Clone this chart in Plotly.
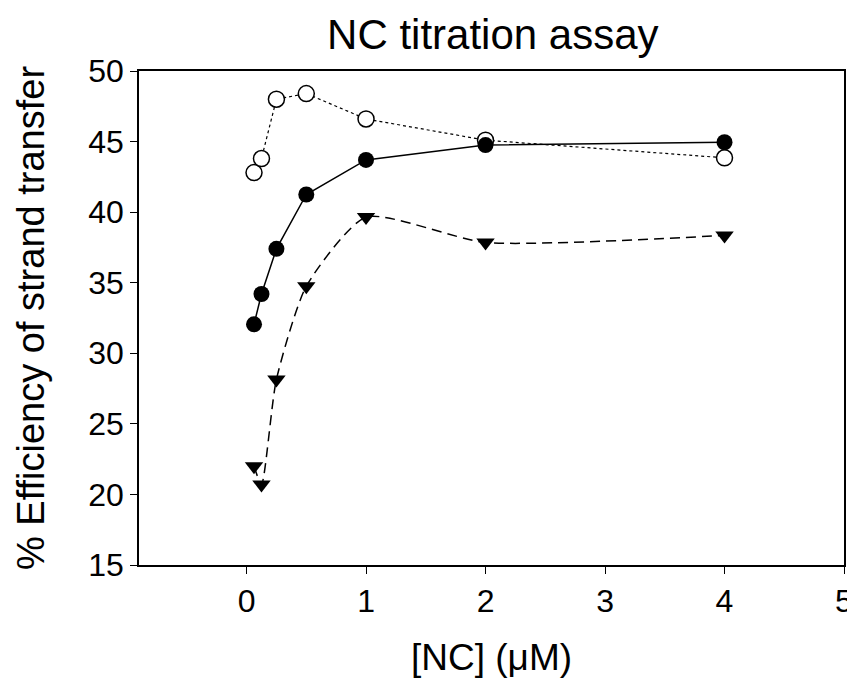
import plotly.graph_objects as go

nc = [0.0625, 0.125, 0.25, 0.5, 1, 2, 4]
open_circles = [42.8, 43.8, 48.0, 48.4, 46.6, 45.1, 43.85]
filled_circles = [32.05, 34.2, 37.4, 41.25, 43.7, 44.75, 44.95]
triangles = [22.0, 20.7, 28.15, 34.75, 39.65, 37.85, 38.35]

x_ticks = [0, 1, 2, 3, 4, 5]
y_ticks = [15, 20, 25, 30, 35, 40, 45, 50]

FONT = "Liberation Sans, Arial, sans-serif"

fig = go.Figure()
fig.add_trace(go.Scatter(
    x=nc, y=open_circles, mode="lines+markers",
    line=dict(color="black", width=1.2, dash="dot"),
    marker=dict(symbol="circle", size=16, color="white",
                line=dict(color="black", width=1.5)),
    showlegend=False))
fig.add_trace(go.Scatter(
    x=nc, y=filled_circles, mode="lines+markers",
    line=dict(color="black", width=1.5),
    marker=dict(symbol="circle", size=16, color="black"),
    showlegend=False))
fig.add_trace(go.Scatter(
    x=nc, y=triangles, mode="lines+markers",
    line=dict(color="black", width=1.5, dash="10px,6px", shape="spline", smoothing=0.6),
    marker=dict(symbol="triangle-down", size=16, color="black"),
    showlegend=False))

fig.update_layout(
    width=855, height=690,
    paper_bgcolor="white", plot_bgcolor="white",
    margin=dict(l=131, r=10, t=63, b=133),
    font=dict(family=FONT, color="black", size=32),
    title=dict(text="NC titration assay", x=0.567, xanchor="center",
               y=1 - 26 / 690, yanchor="middle",
               font=dict(family=FONT, size=42, color="black")),
)
fig.update_xaxes(
    range=[-0.9, 5], tickvals=x_ticks, ticktext=[str(v) for v in x_ticks],
    ticks="outside", ticklen=7, tickwidth=1, tickcolor="black",
    showline=True, linecolor="black", linewidth=1.5, mirror=True,
    showgrid=False, zeroline=False,
    tickfont=dict(family=FONT, size=32),
    title=dict(text="[NC] (μM)", font=dict(family=FONT, size=37), standoff=26),
)
fig.update_yaxes(
    range=[15, 50], tickvals=y_ticks,
    ticks="outside", ticklen=7, tickwidth=1, tickcolor="black",
    showline=True, linecolor="black", linewidth=1.5, mirror=True,
    showgrid=False, zeroline=False,
    tickfont=dict(family=FONT, size=32),
    title=dict(text="% Efficiency of strand transfer", font=dict(family=FONT, size=38), standoff=32),
)

fig.write_html("out.html")
